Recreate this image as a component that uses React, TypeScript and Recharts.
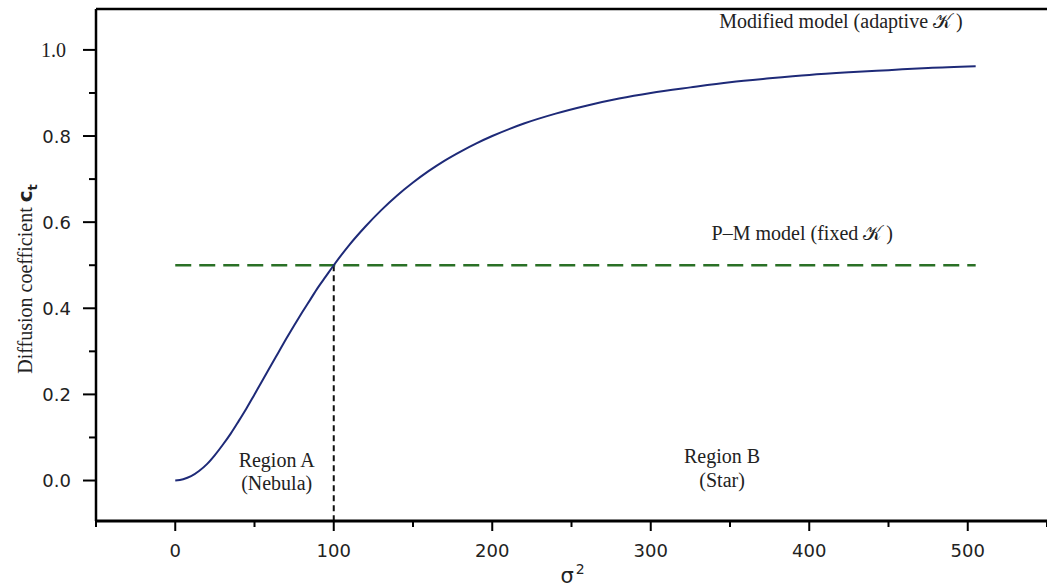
import { LineChart, Line, XAxis, YAxis, ReferenceLine, ReferenceDot } from "recharts";

// sigma^2 sample points and the modified-model diffusion coefficient
const sigmaSq = [0, 5, 10, 15, 20, 25, 30, 35, 40, 45, 50, 55, 60, 65, 70, 75, 80, 85, 90, 95, 100, 110, 120, 130, 140, 150, 160, 170, 180, 190, 200, 220, 240, 260, 280, 300, 325, 350, 375, 400, 425, 450, 475, 505];
const ctModified = [0, 0.003, 0.01, 0.022, 0.038, 0.059, 0.083, 0.109, 0.138, 0.168, 0.2, 0.232, 0.265, 0.297, 0.329, 0.36, 0.39, 0.419, 0.448, 0.474, 0.5, 0.548, 0.59, 0.628, 0.662, 0.692, 0.719, 0.743, 0.764, 0.783, 0.8, 0.829, 0.852, 0.871, 0.887, 0.9, 0.913, 0.925, 0.934, 0.942, 0.948, 0.953, 0.958, 0.962];

// P-M model: constant coefficient
const pmRange = [0, 505];
const pmValue = 0.5;
const crossover = 100;

const xTicks = [-50, 0, 50, 100, 150, 200, 250, 300, 350, 400, 450, 500, 550];
const yTicks = [0, 0.1, 0.2, 0.3, 0.4, 0.5, 0.6, 0.7, 0.8, 0.9, 1.0];
const xDomain = [-50, 550];
const yDomain = [-0.094, 1.095];

const curveData = sigmaSq.map((s, i) => ({ s, ct: ctModified[i] }));
const pmData = pmRange.map((s) => ({ s, pm: pmValue }));

const serif = "'Liberation Serif', 'Times New Roman', serif";
const sans = "'DejaVu Sans', Verdana, sans-serif";

function XTick(props: any) {
    const { x, y, payload } = props;
    const major = payload.value % 100 === 0;
    return (
        <g>
            <line x1={x} x2={x} y1={y} y2={y + (major ? 10 : 6)} stroke="#000" strokeWidth={2} />
            {major && payload.value >= 0 && payload.value <= 500 && (
                <text x={x} y={y + 36} textAnchor="middle" fontFamily={sans} fontSize={18} fill="#222">
                    {payload.value}
                </text>
            )}
        </g>
    );
}

function YTick(props: any) {
    const { x, y, payload } = props;
    const v = Math.round(payload.value * 10);
    const major = v % 2 === 0;
    const isTop = v === 10;
    return (
        <g>
            <line x1={x - (major ? 13 : 7)} x2={x} y1={y} y2={y} stroke="#000" strokeWidth={2} />
            {major && (
                <text
                    x={isTop ? 66 : 71}
                    y={y}
                    dy="0.36em"
                    textAnchor="end"
                    fontFamily={isTop ? serif : sans}
                    fontSize={isTop ? 20 : 18}
                    fill="#222"
                >
                    {(payload.value as number).toFixed(1)}
                </text>
            )}
        </g>
    );
}

function note(lines: string[], gap = 23) {
    return (p: any) => (
        <text x={p.cx} y={p.cy} textAnchor="middle" fontFamily={serif} fontSize={20} fill="#222">
            {lines.map((t, i) => (
                <tspan key={i} x={p.cx} dy={i === 0 ? 0 : gap}>
                    {t}
                </tspan>
            ))}
        </text>
    );
}

export default function App() {
    return (
        <div style={{ position: "absolute", left: 0, top: 0, width: 1047, height: 587, background: "#fff" }}>
            <LineChart width={1047} height={587} data={curveData} margin={{ top: 9, right: 0, bottom: 0, left: 0 }}>
                <XAxis
                    type="number"
                    dataKey="s"
                    domain={xDomain}
                    ticks={xTicks}
                    allowDataOverflow
                    height={66}
                    tickSize={0}
                    tickMargin={0}
                    tickLine={false}
                    axisLine={{ stroke: "#000", strokeWidth: 3 }}
                    tick={(p: any) => <XTick {...p} />}
                    interval={0}
                    label={{
                        content: (p: any) => {
                            const vb = p.viewBox;
                            return (
                                <text x={vb.x + vb.width / 2 - 11} y={vb.y + vb.height - 4} fontFamily={sans} fontSize={21} fill="#222">
                                    σ<tspan fontSize={14} dy={-9} dx={2}>2</tspan>
                                </text>
                            );
                        },
                    }}
                />
                <YAxis
                    type="number"
                    domain={yDomain}
                    ticks={yTicks}
                    allowDataOverflow
                    width={96}
                    tickSize={0}
                    tickMargin={0}
                    tickLine={false}
                    axisLine={{ stroke: "#000", strokeWidth: 2.5 }}
                    tick={(p: any) => <YTick {...p} />}
                    interval={0}
                    label={{
                        content: () => (
                            <text transform="rotate(-90, 32, 279)" x={32} y={279} textAnchor="middle" fontFamily={serif} fontSize={20} fill="#222">
                                Diffusion coefficient <tspan fontFamily={sans} fontWeight="bold">c</tspan>
                                <tspan fontFamily={sans} fontWeight="bold" fontSize={13} dy={5}>t</tspan>
                            </text>
                        ),
                    }}
                />
                <ReferenceLine y={yDomain[1]} stroke="#000" strokeWidth={2.5} ifOverflow="visible" />
                <ReferenceLine
                    segment={[{ x: crossover, y: pmValue }, { x: crossover, y: yDomain[0] }]}
                    stroke="#111"
                    strokeWidth={2}
                    strokeDasharray="6 4"
                />
                <Line
                    data={pmData}
                    dataKey="pm"
                    stroke="#2a7026"
                    strokeWidth={2.5}
                    strokeDasharray="16 8"
                    dot={false}
                    isAnimationActive={false}
                />
                <Line dataKey="ct" type="monotone" stroke="#1e2a78" strokeWidth={2} dot={false} isAnimationActive={false} />
                <ReferenceDot x={420} y={1.051} r={0} shape={note(["Modified model (adaptive 𝒦\u2009)"])} />
                <ReferenceDot x={395.6} y={0.558} r={0} shape={note(["P–M model (fixed 𝒦\u2009)"])} />
                <ReferenceDot x={64} y={0.031} r={0} shape={note(["Region A", "(Nebula)"])} />
                <ReferenceDot x={345} y={0.04} r={0} shape={note(["Region B", "(Star)"], 24)} />
            </LineChart>
        </div>
    );
}
